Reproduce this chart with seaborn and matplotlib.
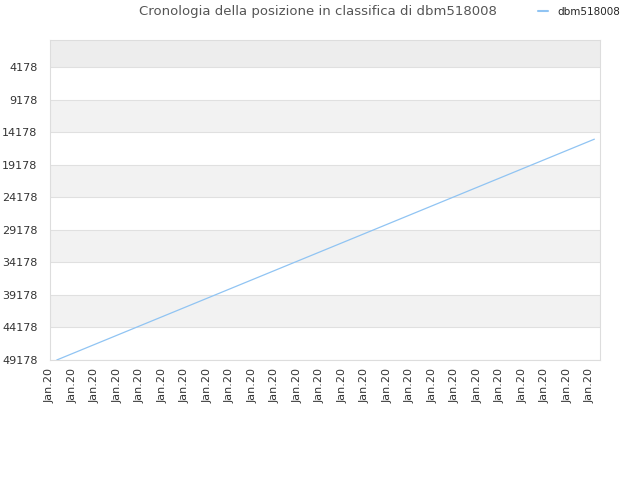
import matplotlib
matplotlib.use("Agg")
import matplotlib.pyplot as plt
from matplotlib.lines import Line2D
import seaborn as sns
import pandas as pd

# data (x in tick-index units, y = rank)
x_pos = [0.3, 4, 8, 12, 16, 20, 24.2]
ranks = [49178, 43924, 38244, 32564, 26884, 21204, 15240]
y_ticks = [4178, 9178, 14178, 19178, 24178, 29178, 34178, 39178, 44178, 49178]
x_labels = ["Jan.20"] * 25
series_name = "dbm518008"
title = "Cronologia della posizione in classifica di dbm518008"
line_color = "#90c4f3"

sns.set_style("white")
plt.rcParams['font.family'] = ['DejaVu Sans']

df = pd.DataFrame({"x": x_pos, "rank": ranks, "name": series_name})

fig = plt.figure(figsize=(6.4, 4.8), dpi=100)
ax = fig.add_axes([50/640, 120/480, 550/640, 320/480])

# alternating bands
ax.axhspan(0, y_ticks[0], color="#ededed", zorder=0, lw=0)
for i in range(1, len(y_ticks) - 1, 2):
    ax.axhspan(y_ticks[i], y_ticks[i + 1], color="#f2f2f2", zorder=0, lw=0)
for t in y_ticks:
    ax.axhline(t, color="#e0e0e0", lw=0.8, zorder=1)

sns.lineplot(data=df, x="x", y="rank", hue="name", palette=[line_color],
             linewidth=0.9, ax=ax, zorder=3, legend=False)

ax.set_ylim(49178, 0)
ax.set_xlim(0, 24.45)
ax.set_yticks(y_ticks)
ax.set_yticklabels([str(t) for t in y_ticks], fontsize=8, color="#333333")
ax.set_xticks(list(range(len(x_labels))))
ax.set_xticklabels(x_labels, rotation=90, fontsize=8, color="#333333")
ax.tick_params(axis="y", length=0, pad=9)
ax.tick_params(axis="x", length=0, pad=6)
ax.set_xlabel("")
ax.set_ylabel("")
for s in ax.spines.values():
    s.set_color("#dddddd")
    s.set_linewidth(0.8)

handle = Line2D([], [], color=line_color, lw=1.5)
fig.legend([handle], [series_name], loc="center left",
           bbox_to_anchor=(538/640, 1 - 12/480), frameon=False,
           fontsize=7.5, handlelength=1.0, handletextpad=0.9, borderpad=0, borderaxespad=0)
fig.text(318/640, 1 - 12/480, title, ha="center", va="center", fontsize=9.5, color="#555555")

fig.savefig("out.png", dpi=100)
